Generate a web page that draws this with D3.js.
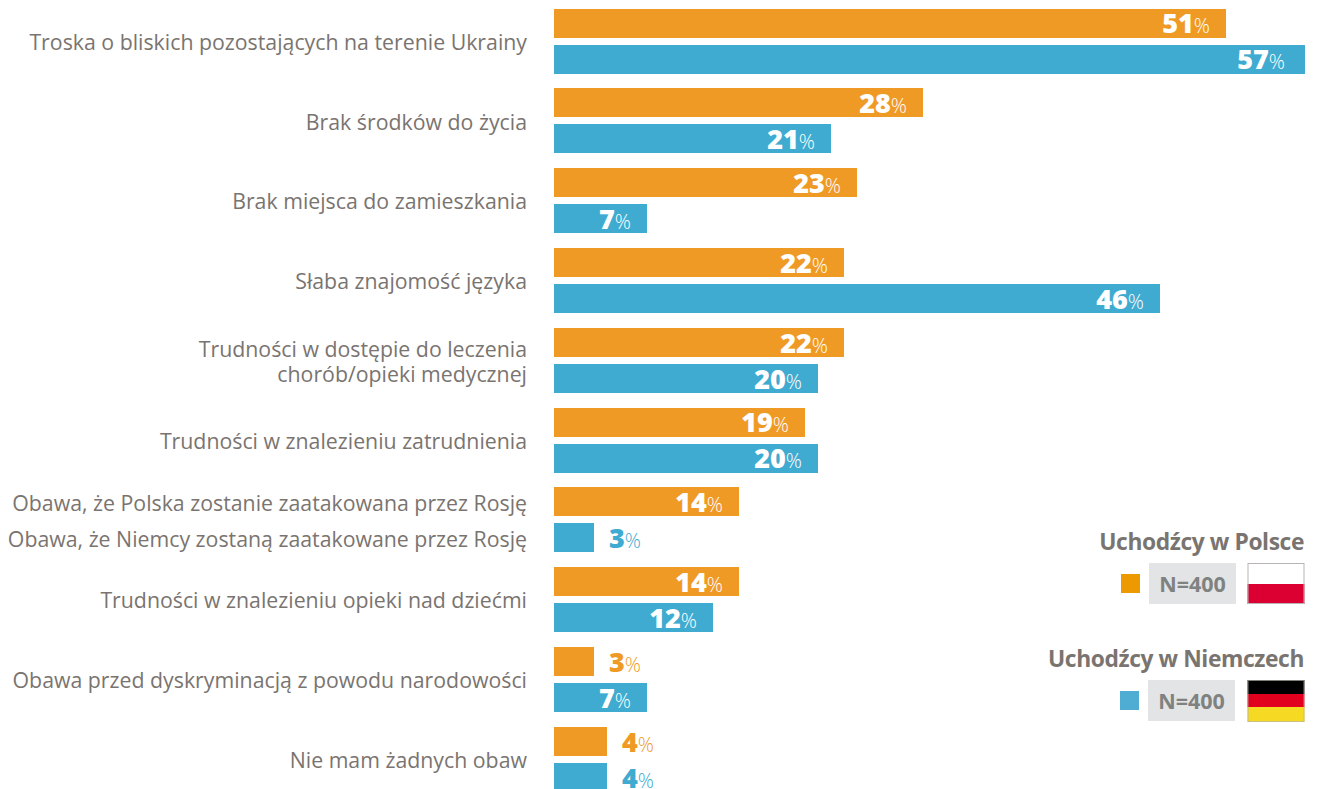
<!DOCTYPE html>
<html lang="pl">
<head>
<meta charset="utf-8">
<title>Obawy uchodźców</title>
<script src="https://cdn.jsdelivr.net/npm/d3@7"></script>
<style>
  html, body { margin: 0; padding: 0; background: #fff; }
  svg { display: block; font-family: "Open Sans", sans-serif; }
</style>
</head>
<body>
<svg id="main-svg" width="1320" height="789"></svg>
<script>
// row labels, one list of lines per row
const categories = [
    ["Troska o bliskich pozostających na terenie Ukrainy"],
    ["Brak środków do życia"],
    ["Brak miejsca do zamieszkania"],
    ["Słaba znajomość języka"],
    ["Trudności w dostępie do leczenia", "chorób/opieki medycznej"],
    ["Trudności w znalezieniu zatrudnienia"],
    ["Obawa, że Polska zostanie zaatakowana przez Rosję", "Obawa, że Niemcy zostaną zaatakowane przez Rosję"],
    ["Trudności w znalezieniu opieki nad dziećmi"],
    ["Obawa przed dyskryminacją z powodu narodowości"],
    ["Nie mam żadnych obaw"]
];
const polska = [51, 28, 23, 22, 22, 19, 14, 14, 3, 4];
const niemcy = [57, 21, 7, 46, 20, 20, 3, 12, 7, 4];
const seriesNames = ["Uchodźcy w Polsce", "Uchodźcy w Niemczech"];
const sampleLabels = ["N=400", "N=400"];

const colorPL = "#f09a26";
const colorDE = "#40abd0";
const textColor = "#7a7470";

const svg = d3.select("#main-svg");

const x = d3.scaleLinear().domain([0, 57]).range([554, 1305]);
const rowY = d3.scaleBand().domain(d3.range(categories.length)).range([8.5, 806.5]);
const barY = d3.scaleBand().domain([0, 1]).range([0, 65]).paddingInner(7 / 36);

const series = [
    { values: polska, color: colorPL },
    { values: niemcy, color: colorDE }
];

// bars in the reference end on whole pixels, slightly rounded up
const barWidth = d => Math.round(x(d) - x(0) + 0.4);

// bars and value labels
series.forEach((s, si) => {
    const g = svg.append("g");

    g.selectAll("rect")
        .data(s.values)
        .enter()
        .append("rect")
        .attr("x", x(0))
        .attr("y", (d, i) => Math.round(rowY(i) + barY(si)))
        .attr("width", barWidth)
        .attr("height", 29)
        .attr("fill", s.color);

    const labels = g.selectAll("text")
        .data(s.values)
        .enter()
        .append("text")
        .attr("x", d => {
            if (d < 5) return x(0) + barWidth(d) + 15;
            // the longest bar keeps its label a bit further in
            return x(0) + barWidth(d) - (d === 57 ? 20 : 16);
        })
        .attr("y", (d, i) => rowY(i) + barY(si) + 24.8)
        .attr("text-anchor", d => d < 5 ? "start" : "end")
        .attr("fill", d => d < 5 ? s.color : "#fff");

    labels.append("tspan")
        .attr("font-size", "27px")
        .attr("font-weight", 800)
        .text(d => d);

    labels.append("tspan")
        .attr("font-size", "20px")
        .attr("font-weight", 300)
        .text("%");
});

// category labels on the left
categories.forEach((lines, i) => {
    const mid = rowY(i) + 32.5;
    // the split row has one label per bar, the wrapped one sits tighter
    const gap = i === 6 ? 36 : 25;
    lines.forEach((line, j) => {
        svg.append("text")
            .attr("x", 527)
            .attr("y", mid + (j - (lines.length - 1) / 2) * gap + 8.8)
            .attr("text-anchor", "end")
            .attr("font-size", "21.3px")
            .attr("fill", textColor)
            .text(line);
    });
});

// legend
const legendTops = [540, 657];
const swatchX = [1121, 1120];
const boxX = [1149, 1148];

seriesNames.forEach((name, i) => {
    const top = legendTops[i];

    svg.append("text")
        .attr("x", 1304)
        .attr("y", top + 10)
        .attr("text-anchor", "end")
        .attr("font-size", "22.8px")
        .attr("font-weight", 700)
        .attr("letter-spacing", "-0.4px")
        .attr("fill", textColor)
        .text(name);

    svg.append("rect")
        .attr("x", swatchX[i])
        .attr("y", top + 34)
        .attr("width", 19)
        .attr("height", 19)
        .attr("fill", i === 0 ? "#ec9a00" : "#4fadd3");

    svg.append("rect")
        .attr("x", boxX[i])
        .attr("y", top + 23)
        .attr("width", 87)
        .attr("height", 41)
        .attr("fill", "#e3e4e6");

    svg.append("text")
        .attr("x", boxX[i] + 43.5)
        .attr("y", top + 52)
        .attr("text-anchor", "middle")
        .attr("font-size", "21.5px")
        .attr("font-weight", 700)
        .attr("fill", "#7f8280")
        .text(sampleLabels[i]);
});

// flags
const flagX = 1247.5;
const flagW = 57;

const pl = svg.append("g").attr("transform", `translate(${flagX}, 563)`);
pl.append("rect").attr("width", flagW).attr("height", 21).attr("fill", "#fff");
pl.append("rect").attr("y", 21).attr("width", flagW).attr("height", 20).attr("fill", "#dc0032");
pl.append("rect")
    .attr("x", 0.5).attr("y", 0.5)
    .attr("width", flagW - 1).attr("height", 40)
    .attr("fill", "none")
    .attr("stroke", "#b9b5b7");

const de = svg.append("g").attr("transform", `translate(${flagX}, 680)`);
de.append("rect").attr("width", flagW).attr("height", 14).attr("fill", "#000");
de.append("rect").attr("y", 14).attr("width", flagW).attr("height", 13).attr("fill", "#e2001f");
de.append("rect").attr("y", 27).attr("width", flagW).attr("height", 15).attr("fill", "#f5d922");
de.append("rect")
    .attr("x", 0.5).attr("y", 0.5)
    .attr("width", flagW - 1).attr("height", 41)
    .attr("fill", "none")
    .attr("stroke", "#b5b3aa")
    .attr("stroke-opacity", 0.7);
</script>
</body>
</html>
